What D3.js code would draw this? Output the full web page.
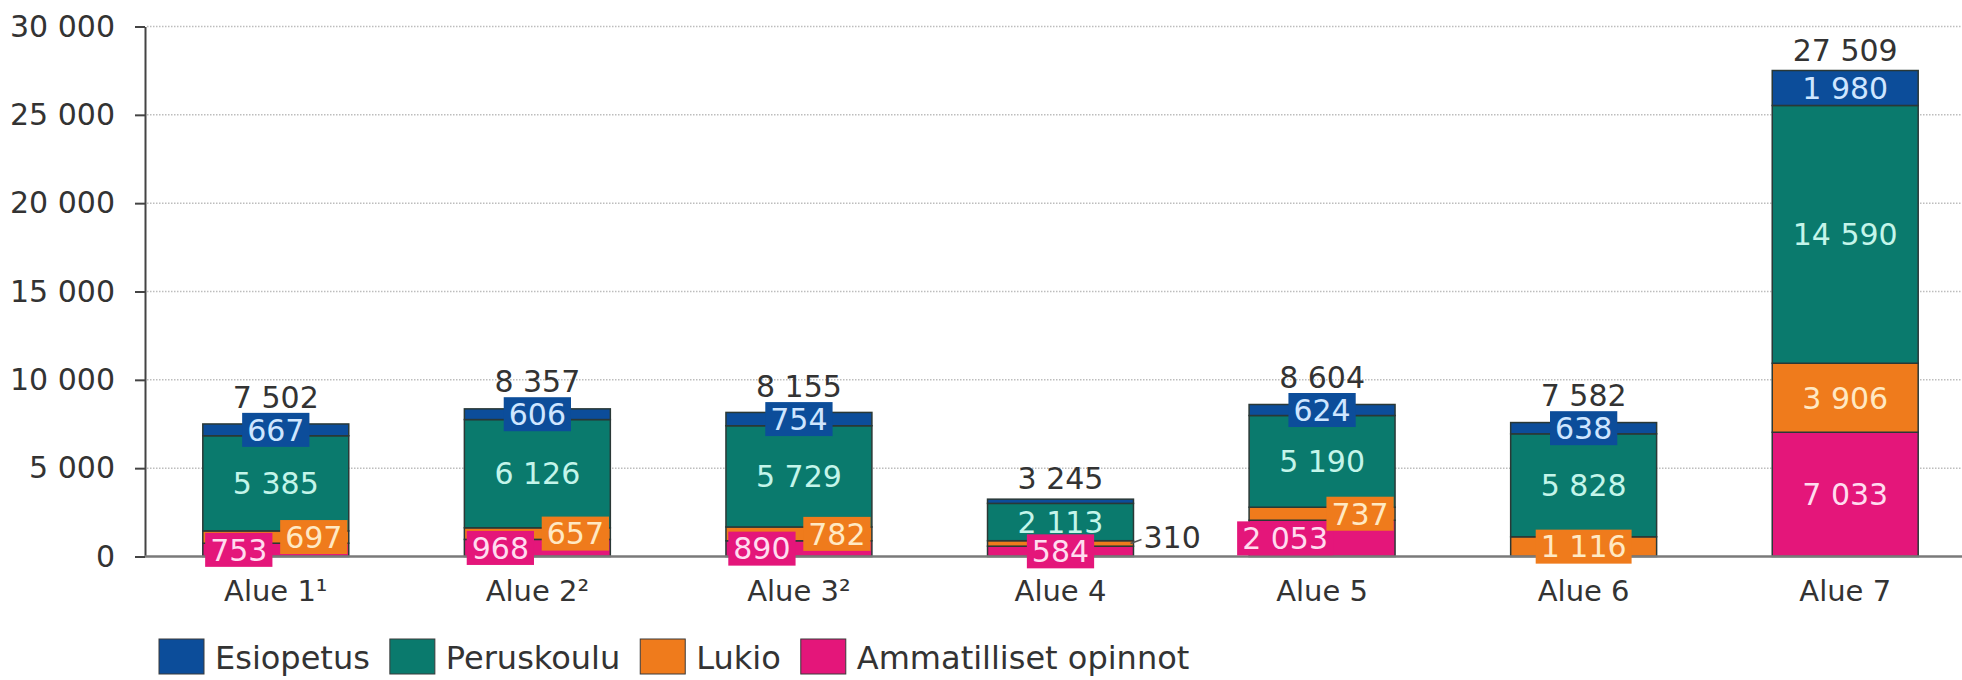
<!DOCTYPE html>
<html>
<head>
<meta charset="utf-8">
<script src="https://cdn.jsdelivr.net/npm/d3@7"></script>
<style>
  body { margin: 0; background: #fff; }
  svg { display: block; font-family: "DejaVu Sans", Verdana, sans-serif; }
</style>
</head>
<body>
<svg width="1962" height="680"></svg>
<script>
// values
var categories = ["Alue 1¹", "Alue 2²", "Alue 3²", "Alue 4", "Alue 5", "Alue 6", "Alue 7"];
var seriesNames = ["Esiopetus", "Peruskoulu", "Lukio", "Ammatilliset opinnot"];
var esiopetus = [667, 606, 754, 238, 624, 638, 1980];
var peruskoulu = [5385, 6126, 5729, 2113, 5190, 5828, 14590];
var lukio = [697, 657, 782, 310, 737, 1116, 3906];
var ammatilliset = [753, 968, 890, 584, 2053, 0, 7033];
var totals = [7502, 8357, 8155, 3245, 8604, 7582, 27509];
var yTicks = [0, 5000, 10000, 15000, 20000, 25000, 30000];

// label placement tweaks
var outsideLabels = ["Alue 4|Lukio"];
var hiddenLabels = ["Alue 4|Esiopetus"];

var colors = {
  "Esiopetus": "#0c4d9a",
  "Peruskoulu": "#0a7a6d",
  "Lukio": "#ef7b1c",
  "Ammatilliset opinnot": "#e4167a"
};
var labelColors = {
  "Esiopetus": "#cfe6ff",
  "Peruskoulu": "#c4f5ea",
  "Lukio": "#ffe9c4",
  "Ammatilliset opinnot": "#ffdcef"
};

var svg = d3.select("svg"),
    width = +svg.attr("width"),
    height = +svg.attr("height");

var fi = d3.formatLocale({decimal: ",", thousands: " ", grouping: [3], currency: ["", " €"]});
var fmt = fi.format(",");

var table = categories.map(function(c, i) {
  return {
    cat: c,
    "Esiopetus": esiopetus[i],
    "Peruskoulu": peruskoulu[i],
    "Lukio": lukio[i],
    "Ammatilliset opinnot": ammatilliset[i],
    total: totals[i]
  };
});

// bottom to top
var stackKeys = ["Ammatilliset opinnot", "Lukio", "Peruskoulu", "Esiopetus"];
var layers = d3.stack().keys(stackKeys)(table);

var x = d3.scaleBand()
    .domain(categories)
    .range([145, 1976])
    .paddingInner(0.442)
    .paddingOuter(0.221);

var y = d3.scaleLinear()
    .domain([0, 30000])
    .range([556.5, 26.5]);

// grid
svg.append("g").selectAll("line")
    .data(yTicks.filter(function(d) { return d > 0; }))
    .enter().append("line")
    .attr("x1", 147).attr("x2", width)
    .attr("y1", function(d) { return y(d); })
    .attr("y2", function(d) { return y(d); })
    .attr("stroke", "#bdbdbd")
    .attr("stroke-width", 1.5)
    .attr("stroke-dasharray", "1.5,1.5");

// y axis
var yAxis = svg.append("g")
    .attr("transform", "translate(145,0)")
    .call(d3.axisLeft(y).tickValues(yTicks).tickFormat(fmt).tickSize(10).tickSizeOuter(0).tickPadding(20));
yAxis.select(".domain").attr("stroke", "#444").attr("stroke-width", 2);
yAxis.selectAll(".tick line").attr("stroke", "#444").attr("stroke-width", 2);
yAxis.selectAll("text")
    .attr("fill", "#333")
    .attr("font-size", 30)
    .attr("font-family", "DejaVu Sans, Verdana, sans-serif");

// bars
var layerG = svg.append("g").selectAll("g")
    .data(layers)
    .enter().append("g")
    .attr("fill", function(d) { return colors[d.key]; });

layerG.selectAll("rect")
    .data(function(d) { return d.filter(function(p) { return p[1] - p[0] > 0; }); })
    .enter().append("rect")
    .attr("x", function(d) { return x(d.data.cat); })
    .attr("width", x.bandwidth())
    .attr("y", function(d) { return y(d[1]); })
    .attr("height", function(d) { return y(d[0]) - y(d[1]); })
    .attr("stroke", "#2a3836")
    .attr("stroke-width", 1.5);

// baseline
svg.append("line")
    .attr("x1", 145).attr("x2", width)
    .attr("y1", y(0)).attr("y2", y(0))
    .attr("stroke", "#7a7a7a")
    .attr("stroke-width", 2.5);

// value labels
var BOX_H = 34;
var labelG = svg.append("g");

function segInfo(key, i) {
  var layer = layers[stackKeys.indexOf(key)];
  var p = layer[i];
  return {v: p[1] - p[0], y0: y(p[0]), y1: y(p[1]), h: y(p[0]) - y(p[1]), mid: (y(p[0]) + y(p[1])) / 2};
}

function addLabel(key, cx, cy, boxed, value) {
  var g = labelG.append("g");
  var t = g.append("text")
      .attr("x", cx).attr("y", cy)
      .attr("dy", "0.36em")
      .attr("text-anchor", "middle")
      .attr("font-size", 30)
      .attr("fill", labelColors[key])
      .text(fmt(value));
  if (boxed) {
    var w = t.node().getComputedTextLength() + 10;
    g.insert("rect", "text")
        .attr("x", cx - w / 2).attr("y", cy - BOX_H / 2)
        .attr("width", w).attr("height", BOX_H)
        .attr("fill", colors[key]);
  }
}

categories.forEach(function(c, i) {
  var cx = x(c) + x.bandwidth() / 2;
  var pink = segInfo("Ammatilliset opinnot", i),
      orange = segInfo("Lukio", i);
  var orangeOutside = outsideLabels.indexOf(c + "|Lukio") >= 0;
  var sideBySide = pink.v > 0 && orange.v > 0 && orange.h < BOX_H && !orangeOutside;

  stackKeys.forEach(function(key) {
    var s = segInfo(key, i);
    if (s.v <= 0 || hiddenLabels.indexOf(c + "|" + key) >= 0) return;
    if (outsideLabels.indexOf(c + "|" + key) >= 0) {
      var xr = x(c) + x.bandwidth();
      labelG.append("line")
          .attr("x1", xr - 3).attr("y1", s.mid)
          .attr("x2", xr + 8).attr("y2", s.mid - 4)
          .attr("stroke", "#555").attr("stroke-width", 1.5);
      labelG.append("text")
          .attr("x", xr + 10).attr("y", s.mid - 6)
          .attr("dy", "0.36em")
          .attr("font-size", 30)
          .attr("fill", "#333")
          .text(fmt(s.v));
      return;
    }
    if (sideBySide && key === "Ammatilliset opinnot") {
      addLabel(key, cx - 37, s.mid, true, s.v);
    } else if (sideBySide && key === "Lukio") {
      addLabel(key, cx + 38, s.mid, true, s.v);
    } else {
      addLabel(key, cx, s.mid, s.h < BOX_H, s.v);
    }
  });

  // total above the bar
  var esi = segInfo("Esiopetus", i);
  var top = y(totals[i]);
  var ty = (esi.h < BOX_H && hiddenLabels.indexOf(c + "|Esiopetus") < 0) ? esi.mid - BOX_H / 2 - 5 : top - 10;
  labelG.append("text")
      .attr("x", cx).attr("y", ty)
      .attr("text-anchor", "middle")
      .attr("font-size", 30)
      .attr("fill", "#333")
      .text(fmt(totals[i]));
});

// category labels
svg.append("g").selectAll("text")
    .data(categories)
    .enter().append("text")
    .attr("x", function(d) { return x(d) + x.bandwidth() / 2; })
    .attr("y", 601)
    .attr("text-anchor", "middle")
    .attr("font-size", 29)
    .attr("fill", "#333")
    .text(function(d) { return d; });

// legend
var legend = svg.append("g");
var lx = 159;
seriesNames.forEach(function(name) {
  legend.append("rect")
      .attr("x", lx).attr("y", 639)
      .attr("width", 45).attr("height", 35)
      .attr("fill", colors[name])
      .attr("stroke", "#3a3a3a").attr("stroke-width", 1);
  var t = legend.append("text")
      .attr("x", lx + 56).attr("y", 669)
      .attr("font-size", 32)
      .attr("fill", "#333")
      .text(name);
  lx += 56 + t.node().getComputedTextLength() + 20;
});
</script>
</body>
</html>
